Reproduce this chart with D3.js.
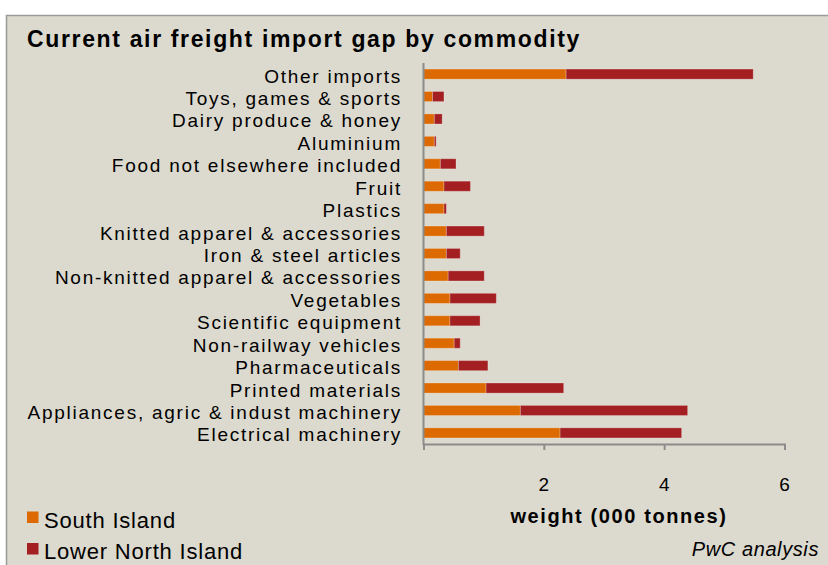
<!DOCTYPE html>
<html>
<head>
<meta charset="utf-8">
<script src="https://cdn.jsdelivr.net/npm/d3@7"></script>
<style>
  body { margin: 0; background: #fff; }
  text { font-family: "Liberation Sans", Arial, sans-serif; fill: #000; }
</style>
</head>
<body>
<div id="chart-container"></div>
<script>
// Categories, top to bottom
const categories = [
  "Other imports",
  "Toys, games & sports",
  "Dairy produce & honey",
  "Aluminium",
  "Food not elsewhere included",
  "Fruit",
  "Plastics",
  "Knitted apparel & accessories",
  "Iron & steel articles",
  "Non-knitted apparel & accessories",
  "Vegetables",
  "Scientific equipment",
  "Non-railway vehicles",
  "Pharmaceuticals",
  "Printed materials",
  "Appliances, agric & indust machinery",
  "Electrical machinery"
];

// weight (000 tonnes)
const southIsland = [2.37, 0.15, 0.18, 0.18, 0.28, 0.34, 0.34, 0.38, 0.38, 0.41, 0.44, 0.44, 0.51, 0.58, 1.04, 1.61, 2.27];
const lowerNorthIsland = [3.11, 0.19, 0.13, 0.03, 0.26, 0.44, 0.04, 0.63, 0.23, 0.60, 0.77, 0.50, 0.10, 0.49, 1.29, 2.78, 2.02];

const seriesNames = ["South Island", "Lower North Island"];
const seriesColors = ["#dc6a00", "#a31f22"];
const xTicks = [2, 4, 6];

const width = 828, height = 565;

const svg = d3.select("#chart-container")
  .append("svg")
  .attr("width", width)
  .attr("height", height);

// panel background
svg.append("rect")
  .attr("x", 6.5)
  .attr("y", 15.5)
  .attr("width", width + 10)
  .attr("height", height)
  .attr("fill", "#dcd9ce")
  .attr("stroke", "#9a9a9a")
  .attr("stroke-width", 1.5);

// title
svg.append("text")
  .attr("x", 27)
  .attr("y", 46.5)
  .attr("font-size", "23px")
  .attr("font-weight", "bold")
  .attr("letter-spacing", "1.65px")
  .text("Current air freight import gap by commodity");

const xScale = d3.scaleLinear()
  .domain([0, 6])
  .range([423.5, 784.5]);

const yScale = d3.scaleBand()
  .domain(categories)
  .range([63, 444])
  .paddingInner(0.55)
  .paddingOuter(0.27);

// stacked data
const rows = categories.map((c, i) => ({ category: c, values: [southIsland[i], lowerNorthIsland[i]] }));

const bars = svg.append("g").attr("class", "bars");
rows.forEach(d => {
  let x0 = 0;
  d.values.forEach((v, j) => {
    bars.append("rect")
      .attr("x", xScale(x0))
      .attr("y", yScale(d.category))
      .attr("width", xScale(x0 + v) - xScale(x0))
      .attr("height", yScale.bandwidth())
      .attr("fill", seriesColors[j])
      .attr("stroke", "rgba(255,255,255,0.25)")
      .attr("stroke-width", 1);
    x0 += v;
  });
});

// y axis line and category labels
svg.append("line")
  .attr("x1", xScale(0)).attr("x2", xScale(0))
  .attr("y1", 63).attr("y2", 445)
  .attr("stroke", "#8c8c8c")
  .attr("stroke-width", 2);

svg.append("g")
  .selectAll("text")
  .data(categories)
  .enter()
  .append("text")
  .attr("x", 402)
  .attr("y", d => yScale(d) + yScale.bandwidth() / 2 + 8.5)
  .attr("text-anchor", "end")
  .attr("font-size", "19px")
  .attr("letter-spacing", "1.75px")
  .text(d => d);

// x axis
const xAxis = d3.axisBottom(xScale)
  .tickValues([0].concat(xTicks))
  .tickSize(6)
  .tickFormat("");

const xg = svg.append("g")
  .attr("transform", "translate(0,444)")
  .call(xAxis);
xg.select(".domain").attr("stroke", "#8c8c8c").attr("stroke-width", 2);
xg.selectAll(".tick line").attr("stroke", "#8c8c8c").attr("stroke-width", 2);

svg.append("g")
  .selectAll("text")
  .data(xTicks)
  .enter()
  .append("text")
  .attr("x", d => xScale(d))
  .attr("y", 491)
  .attr("text-anchor", "middle")
  .attr("font-size", "19px")
  .text(d => d);

// axis title
svg.append("text")
  .attr("x", 619)
  .attr("y", 523)
  .attr("text-anchor", "middle")
  .attr("font-size", "20px")
  .attr("font-weight", "bold")
  .attr("letter-spacing", "1.6px")
  .text("weight (000 tonnes)");

// source
svg.append("text")
  .attr("x", 819)
  .attr("y", 556)
  .attr("text-anchor", "end")
  .attr("font-size", "20px")
  .attr("font-style", "italic")
  .attr("letter-spacing", "0.6px")
  .text("PwC analysis");

// legend
const legend = svg.append("g").attr("class", "legend");
seriesNames.forEach((name, i) => {
  const row = legend.append("g")
    .attr("transform", `translate(27, ${527.5 + i * 31.5})`);
  row.append("rect")
    .attr("x", 0)
    .attr("y", -16)
    .attr("width", 11.5)
    .attr("height", 11.5)
    .attr("fill", seriesColors[i]);
  row.append("text")
    .attr("x", 17)
    .attr("y", 0)
    .attr("font-size", "22px")
    .attr("letter-spacing", "0.8px")
    .text(name);
});
</script>
</body>
</html>
